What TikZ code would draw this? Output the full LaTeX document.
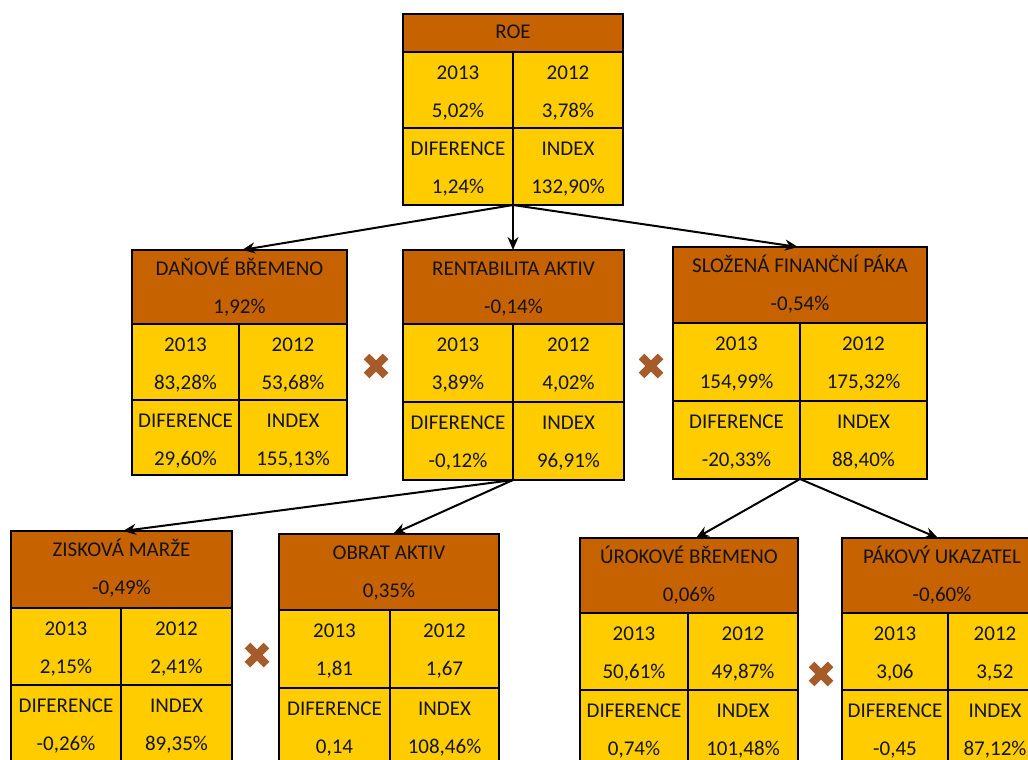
\documentclass[tikz,border=0pt]{standalone}
\usepackage{fontspec}
\setmainfont{Carlito}
\usetikzlibrary{arrows.meta,fit,calc}
\definecolor{hdrbrown}{HTML}{C66200}
\definecolor{cellyellow}{HTML}{FFCC00}
\definecolor{xbrown}{HTML}{A65B2A}
\definecolor{txtc}{HTML}{141414}
\tikzset{
  hdr/.style={draw=black, line width=2pt, fill=hdrbrown, inner sep=0pt, outer sep=0pt},
  cel/.style={draw=black, line width=2pt, fill=cellyellow, inner sep=0pt, outer sep=0pt},
  txt/.style={inner sep=0pt, text=txtc, font=\fontsize{21}{25}\selectfont, text height=13.5pt, text depth=3pt},
  arr/.style={draw=black, line width=2pt, -{Stealth[length=13pt,width=11pt]}},
  xmark/.pic={\draw[xbrown, line width=8pt] (-9.5,-9.5) -- (9.5,9.5) (-9.5,9.5) -- (9.5,-9.5);}
}
\newcommand{\dbox}[8]{%
  \node[hdr, fit={(#2,#5)(#4,#6)}] (#1-h) {};
  \node[cel, fit={(#2,#6)(#3,#7)}] (#1-a) {};
  \node[cel, fit={(#3,#6)(#4,#7)}] (#1-b) {};
  \node[cel, fit={(#2,#7)(#3,#8)}] (#1-c) {};
  \node[cel, fit={(#3,#7)(#4,#8)}] (#1-d) {};
}
\newcommand{\cellt}[3]{%
  \node[txt] (#1-l) at ([yshift=-22pt]#1.north) {#2};
  \node[txt] (#1-v) at ([yshift=-60pt]#1.north) {#3};
}
\newcommand{\dtext}[7]{%
  \node[txt] (#1-t) at ([yshift=-20pt]#1-h.north) {#2};
  \node[txt] (#1-p) at ([yshift=-58pt]#1-h.north) {#3};
  \cellt{#1-a}{2013}{#4}
  \cellt{#1-b}{2012}{#5}
  \cellt{#1-c}{DIFERENCE}{#6}
  \cellt{#1-d}{INDEX}{#7}
}
\begin{document}
\begin{tikzpicture}[x=1pt, y=-1pt]
\useasboundingbox (0,0) rectangle (1028,760);
\clip (0,0) rectangle (1028,760);
\fill[white] (0,0) rectangle (1028,760);

% ROE
\dbox{roe}{403}{513}{623}{14}{52}{128}{205}
\node[txt] (roe-t) at (roe-h.center) {ROE};
\cellt{roe-a}{2013}{5,02\%}
\cellt{roe-b}{2012}{3,78\%}
\cellt{roe-c}{DIFERENCE}{1,24\%}
\cellt{roe-d}{INDEX}{132,90\%}

% level 2
\dbox{dan}{132}{239}{347}{250}{324}{400}{475}
\dtext{dan}{DAŇOVÉ BŘEMENO}{1,92\%}{83,28\%}{53,68\%}{29,60\%}{155,13\%}

\dbox{rent}{403}{513}{624}{250}{324}{402}{480}
\dtext{rent}{RENTABILITA AKTIV}{-0,14\%}{3,89\%}{4,02\%}{-0,12\%}{96,91\%}

\dbox{sloz}{673}{800}{927}{247}{323}{401}{479}
\dtext{sloz}{SLOŽENÁ FINANČNÍ PÁKA}{-0,54\%}{154,99\%}{175,32\%}{-20,33\%}{88,40\%}

% level 3
\dbox{zisk}{11}{121}{232}{531}{608}{685}{765}
\dtext{zisk}{ZISKOVÁ MARŽE}{-0,49\%}{2,15\%}{2,41\%}{-0,26\%}{89,35\%}

\dbox{obrat}{279}{390}{499}{534}{610}{688}{768}
\dtext{obrat}{OBRAT AKTIV}{0,35\%}{1,81}{1,67}{0,14}{108,46\%}

\dbox{urok}{580}{688}{798}{538}{613}{690}{768}
\dtext{urok}{ÚROKOVÉ BŘEMENO}{0,06\%}{50,61\%}{49,87\%}{0,74\%}{101,48\%}

\dbox{pak}{842}{948}{1042}{538}{613}{690}{768}
\dtext{pak}{PÁKOVÝ UKAZATEL}{-0,60\%}{3,06}{3,52}{-0,45}{87,12\%}

% connectors
\draw[arr] (roe-c.south east) -- ([xshift=3pt]dan-a.north east |- dan-h.north);
\draw[arr] (roe-c.south east) -- (rent-a.north east |- rent-h.north);
\draw[arr] (roe-c.south east) -- ([xshift=-2pt]sloz-a.north east |- sloz-h.north);
\draw[arr] (rent-c.south east) -- ([xshift=2pt]zisk-a.north east |- zisk-h.north);
\draw[arr] (rent-c.south east) -- ([xshift=3pt]obrat-a.north east |- obrat-h.north);
\draw[arr] (sloz-c.south east) -- ([xshift=8pt]urok-a.north east |- urok-h.north);
\draw[arr] (sloz-c.south east) -- ([xshift=-10pt]pak-a.north east |- pak-h.north);

% multiplication marks
\pic (x1) at (376,366) {xmark};
\pic (x2) at (651,366) {xmark};
\pic (x3) at (257,655) {xmark};
\pic (x4) at (821,674) {xmark};
\end{tikzpicture}
\end{document}
